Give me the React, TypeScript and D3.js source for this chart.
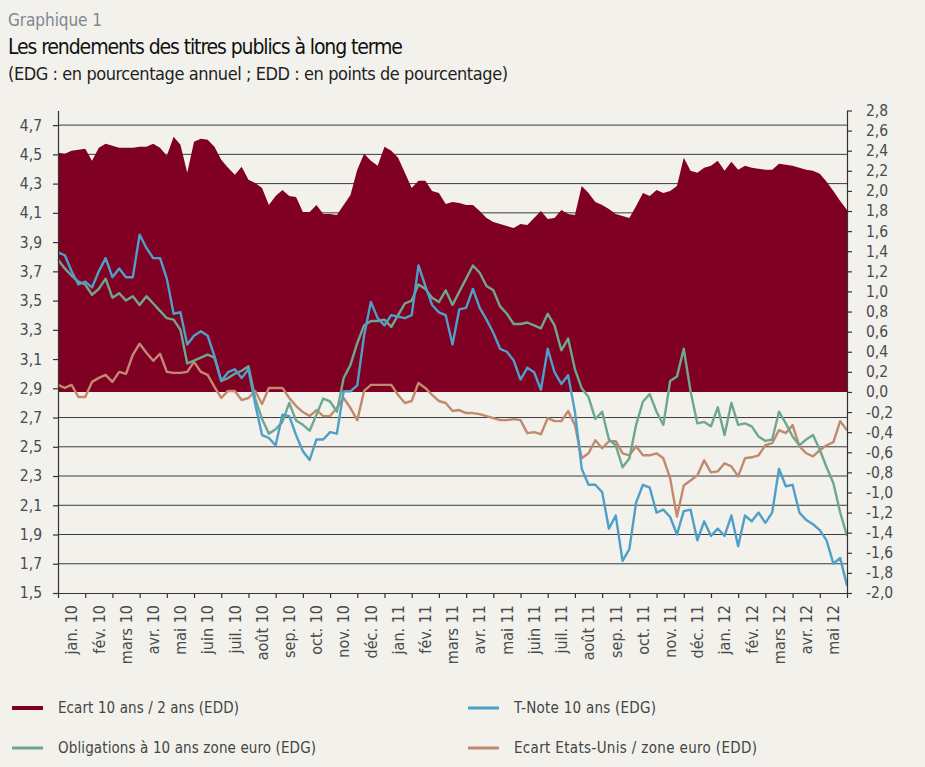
import { useEffect, useRef } from "react";
import * as d3 from "d3";

// x axis: one band per month, jan. 10 -> mai 12
const monthLabels = [
  "jan. 10", "fév. 10", "mars 10", "avr. 10", "mai 10", "juin 10", "juil. 10", "août 10",
  "sep. 10", "oct. 10", "nov. 10", "déc. 10", "jan. 11", "fév. 11", "mars 11", "avr. 11",
  "mai 11", "juin 11", "juil. 11", "août 11", "sep. 11", "oct. 11", "nov. 11", "déc. 11",
  "jan. 12", "fév. 12", "mars 12", "avr. 12", "mai 12",
];

// readings every quarter of a month (index / 4 = months since 1 Jan 2010)
// Ecart 10 ans / 2 ans (EDD, right axis)
const spread10y2y = [
  2.38, 2.37, 2.40, 2.41, 2.42, 2.30, 2.43, 2.47, 2.45, 2.43, 2.43, 2.43,
  2.44, 2.44, 2.47, 2.43, 2.35, 2.54, 2.46, 2.18, 2.49, 2.52, 2.51, 2.44,
  2.31, 2.23, 2.16, 2.24, 2.11, 2.08, 2.03, 1.86, 1.95, 2.01, 1.95, 1.94,
  1.79, 1.79, 1.86, 1.77, 1.77, 1.76, 1.86, 1.96, 2.21, 2.37, 2.30, 2.25,
  2.44, 2.40, 2.33, 2.18, 2.03, 2.10, 2.10, 2.00, 1.98, 1.87, 1.89, 1.88,
  1.86, 1.86, 1.80, 1.73, 1.69, 1.67, 1.65, 1.63, 1.67, 1.66, 1.73, 1.80,
  1.72, 1.73, 1.81, 1.77, 1.76, 2.05, 1.98, 1.89, 1.86, 1.82, 1.77, 1.75,
  1.73, 1.85, 1.98, 1.95, 2.01, 1.98, 2.00, 2.05, 2.33, 2.20, 2.18, 2.23,
  2.25, 2.30, 2.20, 2.29, 2.21, 2.25, 2.23, 2.22, 2.21, 2.21, 2.27, 2.26,
  2.25, 2.23, 2.21, 2.20, 2.17, 2.09, 2.00, 1.90, 1.81,
];

// T-Note 10 ans (EDG, left axis)
const tNote10y = [
  3.83, 3.81, 3.70, 3.61, 3.63, 3.59, 3.70, 3.79, 3.66, 3.72, 3.66, 3.66,
  3.95, 3.86, 3.79, 3.79, 3.65, 3.41, 3.42, 3.20, 3.26, 3.29, 3.26, 3.12,
  2.95, 3.01, 3.03, 2.97, 3.03, 2.79, 2.58, 2.56, 2.51, 2.72, 2.71, 2.58,
  2.47, 2.41, 2.55, 2.55, 2.60, 2.59, 2.88, 2.88, 2.92, 3.26, 3.49, 3.38,
  3.33, 3.40, 3.39, 3.38, 3.40, 3.74, 3.60, 3.47, 3.42, 3.40, 3.20, 3.44,
  3.45, 3.58, 3.45, 3.37, 3.28, 3.17, 3.15, 3.09, 2.96, 3.04, 3.01, 2.89,
  3.17, 3.01, 2.93, 2.99, 2.74, 2.35, 2.24, 2.24, 2.19, 1.94, 2.03, 1.72,
  1.80, 2.12, 2.24, 2.22, 2.05, 2.07, 2.02, 1.90, 2.06, 2.07, 1.86, 1.99,
  1.89, 1.94, 1.89, 2.03, 1.82, 2.03, 1.99, 2.05, 1.98, 2.05, 2.35, 2.23,
  2.24, 2.05, 2.00, 1.97, 1.93, 1.86, 1.70, 1.74, 1.55,
];

// Obligations à 10 ans zone euro (EDG, left axis)
const euroBond10y = [
  3.78, 3.72, 3.67, 3.63, 3.61, 3.54, 3.58, 3.65, 3.52, 3.55, 3.50, 3.53,
  3.47, 3.53, 3.48, 3.43, 3.38, 3.37, 3.30, 3.07, 3.09, 3.11, 3.13, 3.11,
  2.95, 2.97, 3.00, 3.02, 3.05, 2.83, 2.69, 2.59, 2.62, 2.67, 2.80, 2.68,
  2.65, 2.61, 2.72, 2.83, 2.81, 2.74, 2.97, 3.06, 3.21, 3.33, 3.36, 3.36,
  3.37, 3.32, 3.40, 3.48, 3.50, 3.61, 3.58, 3.52, 3.49, 3.57, 3.47, 3.56,
  3.65, 3.74, 3.69, 3.60, 3.57, 3.46, 3.41, 3.34, 3.34, 3.35, 3.33, 3.31,
  3.41, 3.33, 3.16, 3.24, 3.03, 2.90, 2.84, 2.69, 2.74, 2.55, 2.51, 2.36,
  2.42, 2.65, 2.81, 2.86, 2.74, 2.65, 2.95, 2.98, 3.17, 2.88, 2.66, 2.67,
  2.64, 2.77, 2.58, 2.80, 2.65, 2.66, 2.64, 2.57, 2.54, 2.55, 2.74, 2.66,
  2.57, 2.51, 2.55, 2.58, 2.48, 2.36, 2.25, 2.05, 1.89,
];

// Ecart Etats-Unis / zone euro (EDD, right axis)
const usEuroGap = [
  0.07, 0.04, 0.07, -0.05, -0.05, 0.10, 0.14, 0.17, 0.10, 0.20, 0.18, 0.37,
  0.48, 0.39, 0.31, 0.38, 0.20, 0.19, 0.19, 0.20, 0.30, 0.20, 0.17, 0.05,
  -0.06, 0.01, 0.01, -0.08, -0.06, 0.01, -0.12, 0.04, 0.04, 0.04, -0.06, -0.14,
  -0.20, -0.24, -0.18, -0.24, -0.24, -0.16, -0.06, -0.16, -0.28, 0.01, 0.07, 0.07,
  0.07, 0.07, -0.03, -0.11, -0.09, 0.09, 0.04, -0.03, -0.09, -0.11, -0.19, -0.18,
  -0.21, -0.21, -0.22, -0.24, -0.26, -0.28, -0.28, -0.27, -0.28, -0.41, -0.40, -0.42,
  -0.26, -0.29, -0.29, -0.19, -0.33, -0.66, -0.61, -0.48, -0.56, -0.49, -0.49, -0.61,
  -0.63, -0.54, -0.63, -0.63, -0.61, -0.66, -0.86, -1.24, -0.93, -0.88, -0.83, -0.68,
  -0.80, -0.79, -0.71, -0.74, -0.84, -0.66, -0.65, -0.63, -0.53, -0.51, -0.38, -0.41,
  -0.33, -0.54, -0.61, -0.64, -0.58, -0.53, -0.50, -0.29, -0.38,
];

const leftTicks = [1.5, 1.7, 1.9, 2.1, 2.3, 2.5, 2.7, 2.9, 3.1, 3.3, 3.5, 3.7, 3.9, 4.1, 4.3, 4.5, 4.7];
const rightTicks = [
  -2.0, -1.8, -1.6, -1.4, -1.2, -1.0, -0.8, -0.6, -0.4, -0.2, 0.0, 0.2, 0.4,
  0.6, 0.8, 1.0, 1.2, 1.4, 1.6, 1.8, 2.0, 2.2, 2.4, 2.6, 2.8,
];

const FONT = "'DejaVu Sans Condensed', 'DejaVu Sans', sans-serif";

const App = () => {
  const svgRef = useRef(null);

  useEffect(() => {
    if (!svgRef.current) return;
    const svg = d3.select(svgRef.current);
    svg.selectAll("*").remove();

    // plot box
    const left = 58;
    const right = 847;
    const top = 110.5;
    const bottom = 593;

    const x = d3.scaleLinear().domain([0, monthLabels.length]).range([left, right]);
    const xBand = d3.scaleBand().domain(monthLabels).range([left, right]);
    const yL = d3.scaleLinear().domain([1.5, 4.8]).range([bottom, top]);
    const yR = d3.scaleLinear().domain([-2.0, 2.8]).range([bottom, top]);
    const t = (i: number) => i / 4;

    const fr = d3.formatLocale({
      decimal: ",",
      thousands: " ",
      grouping: [3],
      currency: ["", ""],
      minus: "-",
    } as any).format(".1f");

    svg.append("rect").attr("width", 925).attr("height", 767).attr("fill", "#f2f1eb");

    // Titles
    svg.append("text").attr("x", 8).attr("y", 26).attr("font-size", 17)
      .attr("fill", "#7d8790").attr("textLength", 94).text("Graphique 1");
    svg.append("text").attr("x", 8).attr("y", 54).attr("font-size", 21)
      .attr("fill", "#111").attr("textLength", 395).text("Les rendements des titres publics à long terme");
    svg.append("text").attr("x", 8).attr("y", 80).attr("font-size", 18)
      .attr("fill", "#222").attr("textLength", 500)
      .text("(EDG : en pourcentage annuel ; EDD : en points de pourcentage)");

    // Gridlines (under the area)
    svg.append("g").selectAll("line").data(leftTicks.slice(1)).join("line")
      .attr("x1", left).attr("x2", right)
      .attr("y1", (d) => yL(d)).attr("y2", (d) => yL(d))
      .attr("stroke", "#3c3c3c").attr("stroke-width", 1);

    // Area: Ecart 10 ans / 2 ans
    const area = d3.area<number>()
      .x((_, i) => x(t(i)))
      .y0(yR(0))
      .y1((d) => yR(d));
    svg.append("path").datum(spread10y2y).attr("d", area).attr("fill", "#800024");

    // Lines
    const lineL = d3.line<number>().x((_, i) => x(t(i))).y((d) => yL(d));
    const lineR = d3.line<number>().x((_, i) => x(t(i))).y((d) => yR(d));
    const drawLine = (data: number[], gen: any, color: string) =>
      svg.append("path").datum(data).attr("d", gen).attr("fill", "none")
        .attr("stroke", color).attr("stroke-width", 2.4)
        .attr("stroke-linejoin", "round");
    drawLine(usEuroGap, lineR, "#c1896e");
    drawLine(euroBond10y, lineL, "#6ea791");
    drawLine(tNote10y, lineL, "#4f9fc8");

    // Axes
    const styleAxis = (g: any) => {
      g.selectAll("path, line").attr("stroke", "#333").attr("stroke-width", 1.2);
      g.selectAll("text").attr("font-family", FONT).attr("font-size", 15.5).attr("fill", "#4a4a4a");
    };

    svg.append("g").attr("transform", `translate(${left},0)`)
      .call(d3.axisLeft(yL).tickValues(leftTicks).tickFormat(fr as any).tickSize(5).tickSizeOuter(0).tickPadding(11))
      .call(styleAxis);

    svg.append("g").attr("transform", `translate(${right},0)`)
      .call(d3.axisRight(yR).tickValues(rightTicks).tickFormat(fr as any).tickSize(5).tickSizeOuter(0).tickPadding(14))
      .call(styleAxis);

    svg.append("g").attr("transform", `translate(0,${bottom})`)
      .call(d3.axisBottom(x).tickValues(d3.range(monthLabels.length + 1)).tickFormat(() => "").tickSize(5).tickSizeOuter(0))
      .call(styleAxis);

    const xl = svg.append("g").attr("transform", `translate(0,${bottom})`)
      .call(d3.axisBottom(xBand).tickSize(0));
    xl.select(".domain").remove();
    xl.selectAll("text")
      .attr("font-family", FONT).attr("font-size", 16).attr("fill", "#4a4a4a")
      .attr("transform", "rotate(-90)")
      .attr("text-anchor", "end")
      .attr("x", -12).attr("y", 0).attr("dy", "0.36em");

    // Legend
    const legendItems = [
      { label: "Ecart 10 ans / 2 ans (EDD)", color: "#800024", w: 4, lx: 12, ly: 708, len: 181 },
      { label: "T-Note 10 ans (EDG)", color: "#4f9fc8", w: 3, lx: 468, ly: 708, len: 142 },
      { label: "Obligations à 10 ans zone euro (EDG)", color: "#6ea791", w: 3, lx: 12, ly: 748, len: 258 },
      { label: "Ecart Etats-Unis / zone euro (EDD)", color: "#c1896e", w: 3, lx: 468, ly: 748, len: 243 },
    ];
    const lg = svg.append("g").selectAll("g").data(legendItems).join("g")
      .attr("transform", (d) => `translate(${d.lx},${d.ly})`);
    lg.append("line").attr("x1", 0).attr("x2", 31).attr("y1", 0).attr("y2", 0)
      .attr("stroke", (d) => d.color).attr("stroke-width", (d) => d.w);
    lg.append("text").attr("x", 46).attr("y", 0).attr("dy", "0.35em")
      .attr("font-size", 15).attr("fill", "#444")
      .attr("textLength", (d) => d.len)
      .text((d) => d.label);

    svg.selectAll("text").attr("font-family", FONT);
  }, []);

  return (
    <svg
      ref={svgRef}
      width={925}
      height={767}
      style={{ position: "absolute", left: 0, top: 0, display: "block" }}
    />
  );
};

export default App;
